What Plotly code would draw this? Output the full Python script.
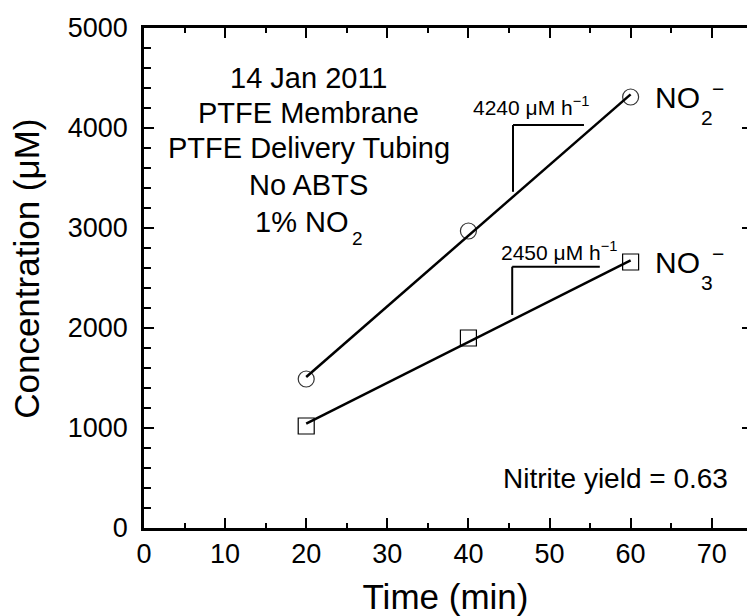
import plotly.graph_objects as go

# Sampling times and measured concentrations
time_min = [20, 40, 60]
nitrite_uM = [1490, 2970, 4310]
nitrate_uM = [1020, 1900, 2660]

# Production rates shown beside the fitted lines (uM per hour)
nitrite_rate = 4240
nitrate_rate = 2450
nitrite_yield = 0.63

x_tick_vals = [0, 10, 20, 30, 40, 50, 60, 70]
y_tick_vals = [0, 1000, 2000, 3000, 4000, 5000]
condition_lines = ["14 Jan 2011", "PTFE Membrane", "PTFE Delivery Tubing", "No ABTS"]

FONT = "Liberation Sans, Arial, sans-serif"
BLACK = "#000000"


def rate_line(t, c, rate_per_h):
    """Straight line with the given slope passing through the data centroid."""
    mt = sum(t) / len(t)
    mc = sum(c) / len(c)
    k = rate_per_h / 60.0
    xs = [t[0], t[-1]]
    return xs, [mc + k * (x - mt) for x in xs], (mt, mc, k)


fig = go.Figure()

# markers first, fitted lines drawn over them
fig.add_trace(go.Scatter(
    x=time_min, y=nitrite_uM, mode="markers", showlegend=False,
    marker=dict(symbol="circle-open", size=16, color="#333333", line=dict(width=1.2)),
))
fig.add_trace(go.Scatter(
    x=time_min, y=nitrate_uM, mode="markers", showlegend=False,
    marker=dict(symbol="square-open", size=16, color=BLACK, line=dict(width=1.2)),
))

no2_x, no2_y, no2_fit = rate_line(time_min, nitrite_uM, nitrite_rate)
no3_x, no3_y, no3_fit = rate_line(time_min, nitrate_uM, nitrate_rate)
for xs, ys in ((no2_x, no2_y), (no3_x, no3_y)):
    fig.add_trace(go.Scatter(x=xs, y=ys, mode="lines", showlegend=False,
                             line=dict(color=BLACK, width=2.5)))

# companion axis that carries the inward ticks on the right-hand side
fig.add_trace(go.Scatter(x=[0], y=[0], yaxis="y2", mode="markers", showlegend=False,
                         marker=dict(opacity=0), hoverinfo="skip"))


def fit_at(fit, x):
    mt, mc, k = fit
    return mc + k * (x - mt)


# slope brackets
shapes = []
for fit, bx, top, right in ((no2_fit, 45.5, 4030, 54.25), (no3_fit, 45.4, 2613, 56.2)):
    shapes.append(dict(type="line", xref="x", yref="y", x0=bx, x1=bx,
                       y0=fit_at(fit, bx) + 50, y1=top, line=dict(color=BLACK, width=2)))
    shapes.append(dict(type="line", xref="x", yref="y", x0=bx, x1=right,
                       y0=top, y1=top, line=dict(color=BLACK, width=2)))

annotations = []
# experimental conditions
cond_y = [4500, 4150, 3800, 3430]
for txt, yy in zip(condition_lines, cond_y):
    annotations.append(dict(x=20.3, y=yy, xref="x", yref="y", text=txt, showarrow=False,
                            xanchor="center", yanchor="middle",
                            font=dict(family=FONT, size=29, color=BLACK)))
annotations.append(dict(x=25.4, y=3060, xref="x", yref="y", text="1% NO", showarrow=False,
                        xanchor="right", yanchor="middle",
                        font=dict(family=FONT, size=29, color=BLACK)))
annotations.append(dict(x=25.45, y=3060, xref="x", yref="y", text="2", showarrow=False,
                        xanchor="left", yanchor="middle", yshift=-16,
                        font=dict(family=FONT, size=19, color=BLACK)))

# rate labels
for xx, yy, rate in ((40.3, 4222, nitrite_rate), (43.8, 2772, nitrate_rate)):
    annotations.append(dict(x=xx, y=yy, xref="x", yref="y",
                            text=f"{rate} \u03bcM h<sup>\u22121</sup>", showarrow=False,
                            xanchor="left", yanchor="middle",
                            font=dict(family=FONT, size=21, color=BLACK)))

# species labels next to the last points
for series, sub in ((nitrite_uM, "2"), (nitrate_uM, "3")):
    x_end, y_end = time_min[-1], series[-1]
    annotations.append(dict(x=x_end, y=y_end, xref="x", yref="y", text="NO", showarrow=False,
                            xanchor="left", yanchor="middle", xshift=22,
                            font=dict(family=FONT, size=30, color=BLACK)))
    annotations.append(dict(x=x_end, y=y_end, xref="x", yref="y", text=sub, showarrow=False,
                            xanchor="center", yanchor="middle", xshift=76, yshift=-20,
                            font=dict(family=FONT, size=21, color=BLACK)))
    annotations.append(dict(x=x_end, y=y_end, xref="x", yref="y", text="\u2212", showarrow=False,
                            xanchor="center", yanchor="middle", xshift=87, yshift=9,
                            font=dict(family=FONT, size=21, color=BLACK)))

annotations.append(dict(x=72.2, y=500, xref="x", yref="y",
                        text=f"Nitrite yield = {nitrite_yield:.2f}", showarrow=False,
                        xanchor="right", yanchor="middle",
                        font=dict(family=FONT, size=28, color=BLACK)))

# vertical axis title, centred a little above the middle of the axis
annotations.append(dict(x=-0.196, y=0.518, xref="paper", yref="paper",
                        text="Concentration (\u03bcM)", showarrow=False, textangle=-90,
                        xanchor="center", yanchor="middle",
                        font=dict(family=FONT, size=35, color=BLACK)))

fig.update_layout(
    width=747, height=616,
    margin=dict(l=144, r=0, t=28, b=88, pad=0),
    paper_bgcolor="white", plot_bgcolor="white",
    font=dict(family=FONT, color=BLACK),
    shapes=shapes, annotations=annotations,
    xaxis=dict(
        range=[0, 74.35], tickvals=x_tick_vals, ticks="inside", ticklen=10, tickwidth=1.5,
        tickcolor=BLACK, showline=True, linecolor=BLACK, linewidth=2.5, mirror="ticks",
        showgrid=False, zeroline=False, tickfont=dict(size=27), ticklabelstandoff=0,
        minor=dict(dtick=5, ticks="inside", ticklen=5, tickwidth=1.5, tickcolor=BLACK, showgrid=False),
        title=dict(text="Time (min)", font=dict(size=35), standoff=20),
    ),
    yaxis=dict(
        range=[0, 5000], tickvals=y_tick_vals, ticks="inside", ticklen=10, tickwidth=1.5,
        tickcolor=BLACK, showline=True, linecolor=BLACK, linewidth=2.5, mirror=False,
        showgrid=False, zeroline=False, tickfont=dict(size=27), ticklabelstandoff=8,
        minor=dict(dtick=200, ticks="inside", ticklen=7, tickwidth=1.5, tickcolor=BLACK, showgrid=False),
    ),
    yaxis2=dict(
        range=[0, 5000], overlaying="y", side="right", anchor="x",
        tickvals=y_tick_vals, ticks="inside", ticklen=5, tickwidth=1.5, tickcolor=BLACK,
        showticklabels=False, showline=False, showgrid=False, zeroline=False,
    ),
)

fig.write_html("out.html")
